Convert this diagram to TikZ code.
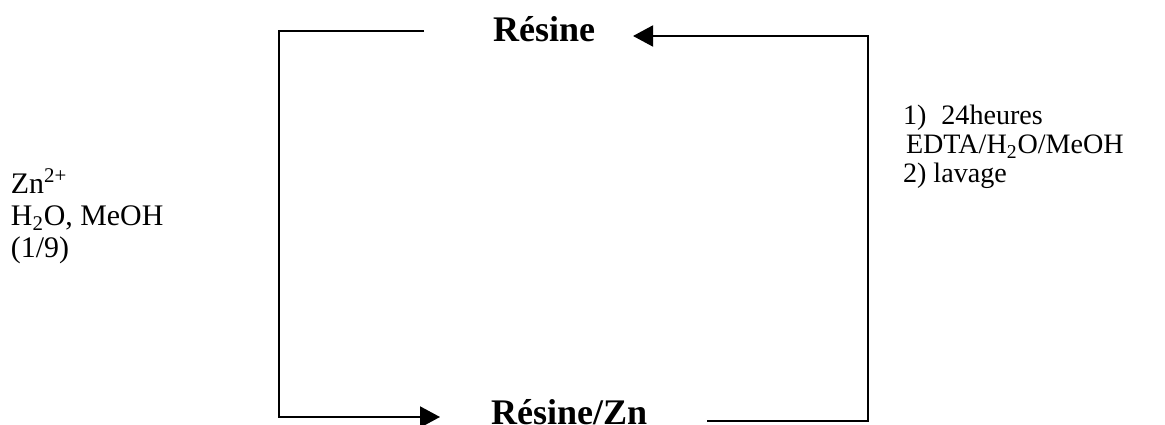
\documentclass[tikz,border=0pt]{standalone}
\usepackage{fontspec}
\setmainfont{Liberation Serif}
\usetikzlibrary{arrows.meta}

\begin{document}
\begin{tikzpicture}[x=0.02cm, y=-0.02cm, line width=0.04cm, >={Triangle[length=0.4cm, width=0.42cm]},
    every node/.style={inner sep=0pt, font=\fontsize{16}{16.5}\selectfont},
    product/.style={anchor=base west, font=\fontsize{20.5}{20.5}\selectfont\bfseries},
    cond/.style={anchor=north west, align=left}]
    \useasboundingbox (0,0) rectangle (1165,425);

    \node (resine) [product] at (492,42) {Résine};
    \node (resinezn) [product] at (490,424) {Résine/Zn};

    % Conditions
    \node (zncond) [cond, font=\fontsize{17}{18}\selectfont] at (10,168) {Zn\textsuperscript{2+}\\H\textsubscript{2}O, MeOH\\(1/9)};
    \node (washcond) [cond] at (902,104) {1)\hspace{0.3cm}24heures\\\hspace*{0.06cm}EDTA/H\textsubscript{2}O/MeOH\\2) lavage};

    % Connections
    \coordinate (lt) at (424,31);
    \coordinate (lb) at (279,417);
    \coordinate (rb) at (707,421);
    \coordinate (rt) at (868,36);
    \draw[->, shorten >=1cm] (lt) -| (lb) -- (lb -| resinezn.west);
    \draw[->, shorten >=0.74cm] (rb) -| (rt) -- (rt -| resine.east);
\end{tikzpicture}
\end{document}
